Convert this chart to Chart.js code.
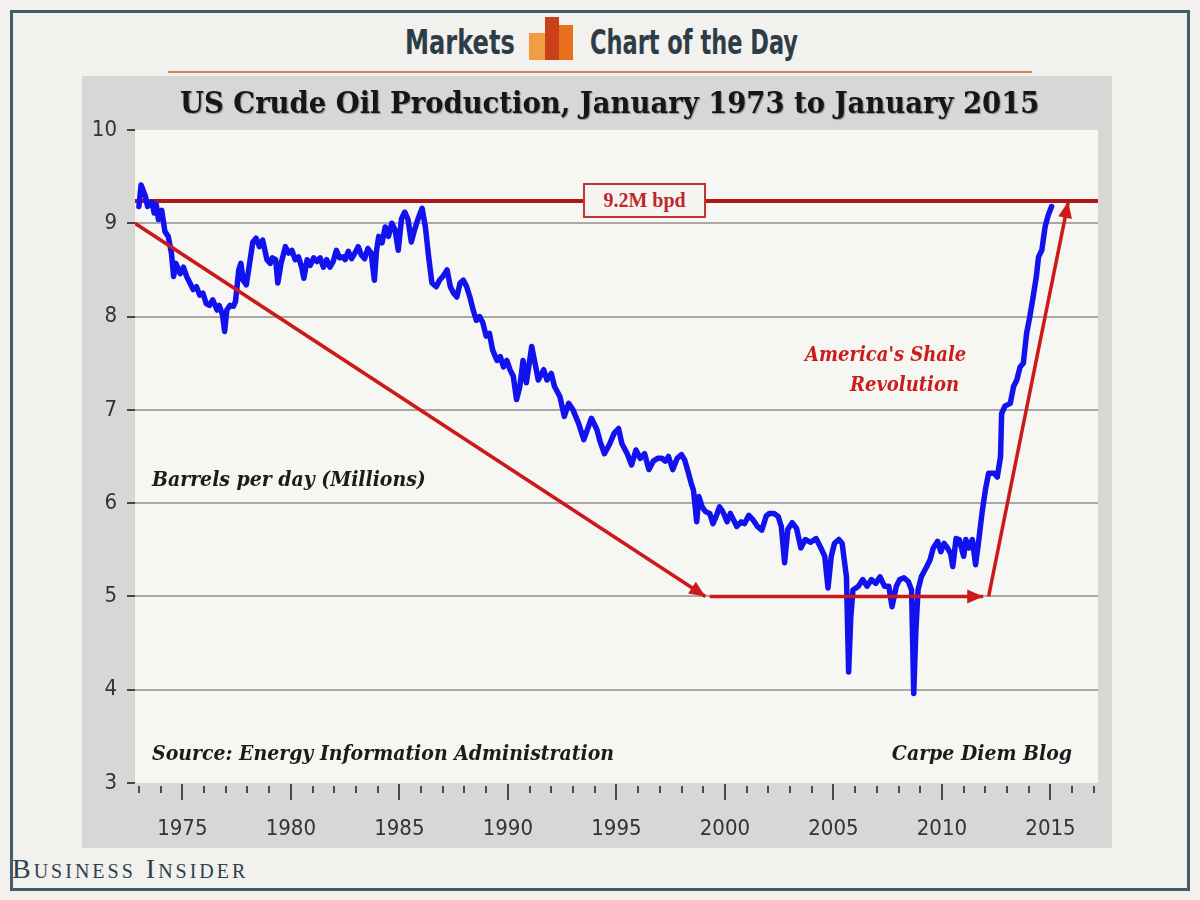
<!DOCTYPE html>
<html>
<head>
<meta charset="utf-8">
<title>US Crude Oil Production</title>
<script src="https://cdn.jsdelivr.net/npm/chart.js@4.4.1/dist/chart.umd.min.js"></script>
<style>
  html, body { margin: 0; padding: 0; }
  body { width: 1200px; height: 900px; background: #f2f1ee; position: relative; overflow: hidden; }
  #frame { position: absolute; left: 10px; top: 10px; width: 1180px; height: 881px; box-sizing: border-box; border: 3px solid #435c68; }
  .hdr { position: absolute; top: 22px; font: bold 34px "DejaVu Sans Condensed", sans-serif; color: #2c3d47; white-space: nowrap; transform-origin: left top; }
  #markets { left: 405px; transform: scaleX(0.79); }
  #cotd { left: 590px; transform: scaleX(0.735); }
  #icon { position: absolute; left: 529px; top: 17px; width: 44px; height: 43px; }
  #icon span { position: absolute; bottom: 0; }
  #icon .b1 { left: 0; width: 16px; height: 27px; background: #f29c43; }
  #icon .b2 { left: 16px; width: 14px; height: 43px; background: #c9401a; }
  #icon .b3 { left: 30px; width: 14px; height: 35px; background: #e8701c; }
  #rule { position: absolute; left: 168px; top: 71px; width: 864px; height: 2px; background: #c98560; }
  #chartbox { position: absolute; left: 82px; top: 76px; width: 1030px; height: 772px; background: #d7d7d5; }
  #title { position: absolute; left: 180px; top: 84px; font: bold 30.5px "DejaVu Serif Condensed", "DejaVu Serif", serif; color: #161616; white-space: nowrap; text-shadow: 1px 1px 1px rgba(0,0,0,0.35); }
  .note { position: absolute; font: italic bold 21px "DejaVu Serif Condensed", "DejaVu Serif", serif; color: #1b1b1b; white-space: nowrap; }
  #ylab { left: 152px; top: 466px; }
  #source { left: 152px; top: 740px; }
  #carpe { right: 128px; top: 740px; }
  .red { color: #cc1d1d; font-size: 20px; }
  #shale1 { left: 805px; top: 342px; }
  #shale2 { left: 850px; top: 372px; }
  #bpd { position: absolute; left: 583px; top: 183px; width: 123px; height: 35px; box-sizing: border-box; border: 2px solid #c23434; background: #f6f5f2; text-align: center; font: bold 20px "Liberation Serif", serif; line-height: 31px; color: #c0272a; }
  #bi { position: absolute; left: 12px; top: 853px; font: 28px "Liberation Serif", serif; font-variant: small-caps; color: #2f424c; letter-spacing: 3px; white-space: nowrap; }
</style>
</head>
<body>
<div id="frame"></div>
<div class="hdr" id="markets">Markets</div>
<div id="icon"><span class="b1"></span><span class="b2"></span><span class="b3"></span></div>
<div class="hdr" id="cotd">Chart of the Day</div>
<div id="rule"></div>
<div id="chartbox"><canvas id="oilChart"></canvas></div>
<div id="title">US Crude Oil Production, January 1973 to January 2015</div>
<div class="note" id="ylab">Barrels per day (Millions)</div>
<div class="note" id="source">Source: Energy Information Administration</div>
<div class="note" id="carpe">Carpe Diem Blog</div>
<div class="note red" id="shale1">America's Shale</div>
<div class="note red" id="shale2">Revolution</div>
<div id="bpd">9.2M bpd</div>
<div id="bi">Business Insider</div>
<script>
"use strict";

// monthly-ish readings, millions of barrels per day
const oilYears = [
  1973.00, 1973.10, 1973.30, 1973.40, 1973.60, 1973.70, 1973.80, 1973.90,
  1974.05, 1974.20, 1974.35, 1974.50, 1974.60, 1974.70, 1974.90,
  1975.05, 1975.20, 1975.35, 1975.50, 1975.65, 1975.80, 1975.95,
  1976.10, 1976.25, 1976.40, 1976.60, 1976.70, 1976.85, 1976.95,
  1977.05, 1977.20, 1977.35, 1977.45, 1977.60, 1977.70, 1977.80, 1977.95,
  1978.10, 1978.25, 1978.40, 1978.55, 1978.70, 1978.90,
  1979.05, 1979.15, 1979.30, 1979.40, 1979.55, 1979.75, 1979.90,
  1980.05, 1980.20, 1980.35, 1980.50, 1980.60, 1980.75, 1980.90,
  1981.05, 1981.20, 1981.35, 1981.50, 1981.65, 1981.80, 1981.95,
  1982.10, 1982.25, 1982.40, 1982.50, 1982.65, 1982.80, 1982.95,
  1983.10, 1983.25, 1983.40, 1983.55, 1983.70, 1983.85, 1983.95,
  1984.05, 1984.20, 1984.35, 1984.50, 1984.65, 1984.80, 1984.95,
  1985.10, 1985.25, 1985.40, 1985.55, 1985.70, 1985.85,
  1986.05, 1986.20, 1986.35, 1986.50, 1986.70, 1986.85,
  1987.00, 1987.20, 1987.35, 1987.50, 1987.65, 1987.80, 1987.95,
  1988.10, 1988.25, 1988.40, 1988.55, 1988.70, 1988.85,
  1989.00, 1989.15, 1989.30, 1989.50, 1989.65, 1989.80, 1989.95,
  1990.10, 1990.25, 1990.40, 1990.55, 1990.70, 1990.85,
  1991.10, 1991.25, 1991.40, 1991.65, 1991.80,
  1992.00, 1992.15, 1992.40, 1992.60, 1992.80,
  1993.00, 1993.25, 1993.50, 1993.65, 1993.85,
  1994.10, 1994.25, 1994.45, 1994.70, 1994.90,
  1995.10, 1995.25, 1995.50, 1995.70, 1995.90,
  1996.10, 1996.30, 1996.50, 1996.70, 1996.90,
  1997.10, 1997.25, 1997.40, 1997.60, 1997.80,
  1998.00, 1998.15, 1998.30, 1998.45, 1998.55, 1998.70, 1998.80, 1998.95,
  1999.10, 1999.30, 1999.45, 1999.60, 1999.75, 1999.90,
  2000.10, 2000.25, 2000.40, 2000.55, 2000.75, 2000.90,
  2001.10, 2001.30, 2001.50, 2001.70, 2001.90,
  2002.05, 2002.25, 2002.45, 2002.60, 2002.75, 2002.90,
  2003.10, 2003.30, 2003.50, 2003.70, 2003.95,
  2004.20, 2004.40, 2004.60, 2004.75, 2004.90,
  2005.05, 2005.25, 2005.40, 2005.60, 2005.70, 2005.80, 2005.90,
  2006.15, 2006.35, 2006.55, 2006.75, 2006.95,
  2007.15, 2007.35, 2007.55, 2007.70, 2007.90,
  2008.05, 2008.25, 2008.45, 2008.60, 2008.70, 2008.80, 2008.90,
  2009.05, 2009.30, 2009.45, 2009.60, 2009.80, 2009.95,
  2010.10, 2010.25, 2010.40, 2010.50, 2010.65, 2010.80,
  2011.00, 2011.10, 2011.25, 2011.40, 2011.55, 2011.70, 2011.85,
  2012.00, 2012.15, 2012.40, 2012.55, 2012.70, 2012.75, 2012.90,
  2013.15, 2013.30, 2013.45, 2013.60, 2013.75, 2013.90,
  2014.05, 2014.20, 2014.35, 2014.45, 2014.60, 2014.75, 2014.90,
  2015.05
];
const oilProduction = [
  9.18, 9.41, 9.29, 9.18, 9.23, 9.11, 9.20, 9.04,
  9.14, 8.91, 8.86, 8.68, 8.43, 8.57, 8.46,
  8.53, 8.43, 8.36, 8.29, 8.32, 8.23, 8.25,
  8.14, 8.12, 8.18, 8.07, 8.12, 8.02, 7.84,
  8.07, 8.12, 8.11, 8.16, 8.50, 8.57, 8.39, 8.34,
  8.57, 8.80, 8.84, 8.75, 8.82, 8.61,
  8.57, 8.63, 8.61, 8.36, 8.57, 8.75, 8.68,
  8.71, 8.61, 8.64, 8.53, 8.41, 8.61, 8.55,
  8.63, 8.59, 8.63, 8.53, 8.61, 8.53, 8.59,
  8.71, 8.63, 8.64, 8.61, 8.70, 8.62, 8.68,
  8.75, 8.66, 8.62, 8.73, 8.68, 8.39, 8.71,
  8.86, 8.79, 8.96, 8.86, 9.00, 8.93, 8.71,
  9.05, 9.12, 9.04, 8.80, 8.93, 9.04,
  9.16, 8.96, 8.64, 8.36, 8.32, 8.39,
  8.43, 8.50, 8.32, 8.25, 8.21, 8.36, 8.39,
  8.32, 8.21, 8.07, 7.96, 8.00, 7.93,
  7.79, 7.82, 7.64, 7.53, 7.57, 7.46, 7.53,
  7.43, 7.36, 7.11, 7.25, 7.53, 7.29,
  7.68, 7.50, 7.32, 7.43, 7.32,
  7.39, 7.25, 7.14, 6.93, 7.07,
  7.00, 6.86, 6.68, 6.78, 6.91,
  6.79, 6.66, 6.53, 6.64, 6.75,
  6.80, 6.64, 6.53, 6.41, 6.57,
  6.48, 6.53, 6.36, 6.45, 6.48,
  6.48, 6.45, 6.50, 6.36, 6.48,
  6.52, 6.46, 6.34, 6.21, 6.14, 5.80, 6.07, 5.96,
  5.91, 5.89, 5.78, 5.86, 5.96, 5.91,
  5.80, 5.89, 5.82, 5.75, 5.80, 5.78,
  5.87, 5.82, 5.75, 5.71, 5.86,
  5.89, 5.89, 5.86, 5.75, 5.36, 5.72,
  5.79, 5.73, 5.52, 5.61, 5.58,
  5.62, 5.53, 5.43, 5.09, 5.43,
  5.57, 5.61, 5.57, 5.21, 4.19, 4.78, 5.07,
  5.11, 5.18, 5.11, 5.18, 5.14,
  5.21, 5.11, 5.11, 4.89, 5.11,
  5.18, 5.20, 5.16, 5.07, 3.96, 4.64, 5.07,
  5.21, 5.32, 5.39, 5.52, 5.59, 5.48,
  5.57, 5.52, 5.46, 5.32, 5.62, 5.61,
  5.43, 5.61, 5.52, 5.61, 5.34, 5.61, 5.90,
  6.14, 6.32, 6.32, 6.28, 6.50, 6.96, 7.04,
  7.07, 7.25, 7.32, 7.46, 7.50, 7.82,
  8.00, 8.21, 8.43, 8.64, 8.71, 8.96, 9.09,
  9.18
];

// red annotation lines, in years / million bpd
const levelX = [1972.82, 2017.19];
const levelY = [9.24, 9.24];
const declineX = [1972.82, 1999.1];
const declineY = [9.0, 5.0];
const flatX = [1999.3, 2011.9];
const flatY = [5.0, 5.0];
const shaleX = [2012.15, 2015.82];
const shaleY = [5.0, 9.23];

const yearMin = 1972.82;
const yearMax = 2017.19;
const tickFont = { family: '"DejaVu Sans Condensed", sans-serif', size: 22 };

function toPoints(xs, ys) {
  return xs.map((x, i) => ({ x: x, y: ys[i] }));
}

const plotBackground = {
  id: "plotBackground",
  beforeDraw(chart) {
    const { ctx, chartArea } = chart;
    ctx.save();
    ctx.fillStyle = "#f6f6f3";
    ctx.fillRect(chartArea.left, chartArea.top, chartArea.right - chartArea.left, chartArea.bottom - chartArea.top);
    ctx.restore();
  },
};

// one tick per year, longer every 5 years
const yearTicks = {
  id: "yearTicks",
  afterDraw(chart) {
    const { ctx, chartArea } = chart;
    const xs = chart.scales.x;
    ctx.save();
    ctx.strokeStyle = "#4a4a4a";
    ctx.lineWidth = 2;
    ctx.beginPath();
    for (let yr = Math.ceil(xs.min); yr <= xs.max; yr++) {
      const px = Math.round(xs.getPixelForValue(yr));
      const major = yr % 5 === 0;
      ctx.moveTo(px, chartArea.bottom + (major ? 1 : 3));
      ctx.lineTo(px, chartArea.bottom + (major ? 17 : 10));
    }
    ctx.stroke();
    ctx.restore();
  },
};

const arrowHeads = {
  id: "arrowHeads",
  afterDatasetsDraw(chart) {
    const ctx = chart.ctx;
    chart.data.datasets.forEach((ds, i) => {
      if (!ds.arrow) return;
      const pts = chart.getDatasetMeta(i).data;
      const tip = pts[pts.length - 1];
      const from = pts[pts.length - 2];
      const ang = Math.atan2(tip.y - from.y, tip.x - from.x);
      const len = 16, half = 7;
      ctx.save();
      ctx.fillStyle = ds.borderColor;
      ctx.translate(tip.x, tip.y);
      ctx.rotate(ang);
      ctx.beginPath();
      ctx.moveTo(0, 0);
      ctx.lineTo(-len, -half);
      ctx.lineTo(-len, half);
      ctx.closePath();
      ctx.fill();
      ctx.restore();
    });
  },
};

const ctx = document.getElementById("oilChart");

const oilChart = new Chart(ctx, {
  type: "line",
  data: {
    datasets: [
      {
        label: "Decline",
        data: toPoints(declineX, declineY),
        borderColor: "#cc1a1a",
        borderWidth: 3.5,
        arrow: true,
        order: 0,
      },
      {
        label: "Flat",
        data: toPoints(flatX, flatY),
        borderColor: "#cc1a1a",
        borderWidth: 3.5,
        arrow: true,
        order: 0,
      },
      {
        label: "Shale",
        data: toPoints(shaleX, shaleY),
        borderColor: "#cc1a1a",
        borderWidth: 3.5,
        arrow: true,
        order: 0,
      },
      {
        label: "US crude oil production",
        data: toPoints(oilYears, oilProduction),
        borderColor: "#1212ee",
        borderWidth: 5.5,
        borderJoinStyle: "round",
        borderCapStyle: "round",
        order: 1,
      },
      {
        label: "9.2M bpd",
        data: toPoints(levelX, levelY),
        borderColor: "#b01818",
        borderWidth: 4,
        order: 2,
      },
    ],
  },
  options: {
    responsive: true,
    maintainAspectRatio: false,
    animation: false,
    layout: { padding: { top: 54, right: 14, left: 0, bottom: 0 } },
    elements: { point: { radius: 0 }, line: { tension: 0 } },
    plugins: {
      legend: { display: false },
      tooltip: { enabled: false },
    },
    scales: {
      x: {
        type: "linear",
        min: yearMin,
        max: yearMax,
        border: { display: false },
        grid: { drawOnChartArea: false, drawTicks: false },
        afterFit: (scale) => {
          scale.height = 65;
          scale.paddingLeft = 0;
          scale.paddingRight = 0;
        },
        ticks: {
          stepSize: 1,
          autoSkip: false,
          maxRotation: 0,
          includeBounds: false,
          padding: 33,
          color: "#333",
          font: tickFont,
          callback: (v) => (v % 5 === 0 ? String(v) : ""),
        },
      },
      y: {
        min: 3,
        max: 10,
        border: { display: false },
        afterFit: (scale) => { scale.width = 53; },
        grid: {
          color: (c) => (c.tick && c.tick.value > 3 && c.tick.value < 10 ? "#a8a8a6" : "rgba(0,0,0,0)"),
          lineWidth: 2,
          tickColor: "#444",
          tickLength: 8,
          tickWidth: 2,
        },
        ticks: { stepSize: 1, padding: 10, color: "#333", font: tickFont },
      },
    },
  },
  plugins: [plotBackground, yearTicks, arrowHeads],
});
</script>
</body>
</html>
